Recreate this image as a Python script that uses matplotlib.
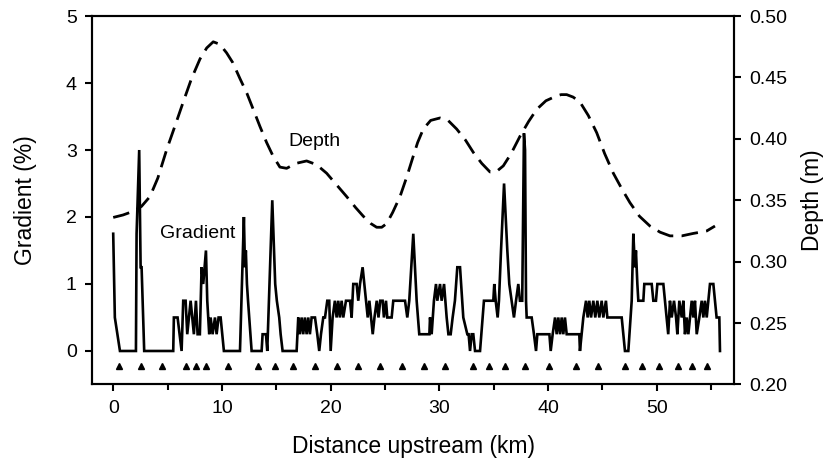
import matplotlib
matplotlib.use("Agg")
import matplotlib.pyplot as plt

plt.rcParams['font.family'] = ['Liberation Sans', 'DejaVu Sans']

# Depth profile (right axis), distance in km / depth in m
depth_km = [0.0, 0.9, 1.84, 2.6, 3.38, 4.1, 4.91, 5.7, 6.44, 7.2, 7.98, 8.6, 9.2, 9.8, 10.43,
            11.0, 11.66, 12.3, 12.88, 13.5, 14.11, 14.7, 15.33, 15.95, 16.8, 17.79, 18.7,
            19.63, 20.5, 21.47, 22.3, 23.0, 23.7, 24.23, 24.7, 25.15, 25.7, 26.38, 27.0, 27.6,
            28.0, 28.52, 29.2, 30.06, 30.8, 31.59, 32.4, 33.12, 33.9, 34.66, 35.2, 35.88, 36.6,
            37.41, 38.2, 38.95, 39.8, 40.79, 41.2, 41.71, 42.3, 42.93, 43.7, 44.47, 45.2, 46.0,
            46.8, 47.53, 48.4, 49.37, 50.3, 51.21, 52.3, 53.36, 54.0, 54.59, 55.35]
depth_m = [0.336, 0.338, 0.341, 0.345, 0.353, 0.368, 0.391, 0.411, 0.430, 0.449, 0.465, 0.474,
           0.479, 0.477, 0.470, 0.462, 0.449, 0.437, 0.424, 0.410, 0.397, 0.386, 0.377, 0.376,
           0.380, 0.382, 0.379, 0.372, 0.363, 0.353, 0.344, 0.337, 0.331, 0.328, 0.328, 0.331,
           0.340, 0.353, 0.369, 0.386, 0.397, 0.408, 0.415, 0.417, 0.415, 0.408, 0.399, 0.389,
           0.380, 0.373, 0.373, 0.378, 0.388, 0.402, 0.414, 0.424, 0.431, 0.435, 0.436, 0.436,
           0.434, 0.430, 0.419, 0.405, 0.388, 0.372, 0.359, 0.348, 0.337, 0.329, 0.324, 0.321,
           0.321, 0.323, 0.324, 0.325, 0.329]

# Gradient profile (left axis), distance in km / gradient in %
grad_km = [0.0, 0.15, 0.62, 2.09, 2.15, 2.39, 2.52, 2.61, 2.85, 5.52, 5.58, 5.92, 6.29, 6.44, 6.66,
           6.81, 7.12, 7.42, 7.61, 7.76, 7.97, 8.13, 8.28, 8.53, 8.65, 8.74, 8.83, 8.96, 9.14,
           9.36, 9.51, 9.69, 9.88, 10.18, 11.66, 12.02, 12.12, 12.2, 12.3, 12.4, 12.73, 13.65,
           13.74, 14.05, 14.17, 14.63, 14.9, 15.05, 15.27, 15.4, 15.58, 16.87, 17.02, 17.17,
           17.33, 17.48, 17.63, 17.79, 17.94, 18.09, 18.25, 18.56, 18.77, 18.95, 19.11, 19.32,
           19.48, 19.69, 19.87, 20.0, 20.18, 20.39, 20.55, 20.7, 20.85, 21.01, 21.16, 21.41,
           21.78, 21.93, 22.08, 22.39, 22.54, 22.7, 22.94, 23.1, 23.26, 23.41, 23.56, 23.72,
           23.87, 24.03, 24.24, 24.4, 24.56, 24.78, 24.9, 25.09, 25.21, 25.61, 25.76, 26.84,
           27.05, 27.23, 27.6, 27.91, 28.15, 29.08, 29.14, 29.29, 29.5, 29.69, 29.81, 30.06,
           30.21, 30.43, 30.55, 30.67, 30.83, 31.04, 31.22, 31.43, 31.65, 31.9, 32.2, 32.57,
           32.69, 32.82, 32.97, 33.12, 33.28, 33.74, 34.1, 34.96, 35.05, 35.18, 35.36, 35.48,
           35.67, 35.95, 36.1, 36.25, 36.43, 36.65, 36.86, 37.05, 37.26, 37.41, 37.62, 37.78,
           37.88, 37.97, 38.03, 38.49, 38.7, 38.89, 39.01, 40.12, 40.24, 40.42, 40.64, 40.79,
           40.94, 41.1, 41.25, 41.4, 41.55, 41.71, 42.87, 42.93, 43.09, 43.24, 43.49, 43.64,
           43.79, 43.95, 44.16, 44.34, 44.53, 44.71, 44.93, 45.08, 45.32, 45.45, 46.77, 46.92,
           47.07, 47.38, 47.69, 47.84, 47.99, 48.08, 48.21, 48.3, 48.76, 48.85, 49.53, 49.68,
           49.92, 50.05, 50.6, 50.75, 50.91, 51.05, 51.21, 51.37, 51.58, 51.77, 51.89, 52.07,
           52.29, 52.44, 52.59, 52.75, 52.9, 53.05, 53.21, 53.36, 53.51, 53.67, 53.91, 54.13,
           54.28, 54.43, 54.59, 54.74, 54.89, 55.2, 55.5, 55.75, 55.81]
grad_pct = [1.75, 0.5, 0.0, 0.0, 1.75, 3.0, 1.25, 1.25, 0.0, 0.0, 0.5, 0.5, 0.0, 0.75, 0.75,
            0.25, 0.75, 0.25, 0.75, 0.25, 0.25, 1.25, 1.0, 1.5, 0.75, 0.5, 0.25, 0.5, 0.25,
            0.5, 0.25, 0.5, 0.5, 0.0, 0.0, 2.0, 1.25, 1.5, 1.0, 0.75, 0.0, 0.0,
            0.25, 0.25, 0.0, 2.25, 1.0, 0.75, 0.5, 0.25, 0.0, 0.0, 0.5, 0.25,
            0.5, 0.25, 0.5, 0.25, 0.5, 0.25, 0.5, 0.5, 0.25, 0.0, 0.25, 0.5,
            0.5, 0.75, 0.75, 0.0, 0.5, 0.75, 0.5, 0.75, 0.5, 0.75, 0.5, 0.75,
            0.75, 0.5, 1.0, 1.0, 0.75, 1.0, 1.25, 1.0, 0.75, 0.5, 0.75, 0.5,
            0.25, 0.5, 0.75, 0.5, 0.75, 0.75, 0.5, 0.75, 0.5, 0.5, 0.75, 0.75,
            0.5, 0.75, 1.75, 0.75, 0.25, 0.25, 0.5, 0.25, 0.75, 1.0, 0.75, 1.0,
            0.75, 1.0, 0.75, 0.5, 0.25, 0.25, 0.5, 0.75, 1.25, 1.25, 0.5, 0.25,
            0.25, 0.0, 0.25, 0.25, 0.0, 0.0, 0.75, 0.75, 1.0, 0.75, 0.5, 0.75,
            1.5, 2.5, 2.0, 1.5, 1.0, 0.75, 0.5, 0.75, 1.0, 0.75, 0.75, 3.25,
            3.0, 0.75, 0.5, 0.5, 0.25, 0.0, 0.25, 0.25, 0.0, 0.25, 0.5, 0.25,
            0.5, 0.25, 0.5, 0.25, 0.5, 0.25, 0.25, 0.0, 0.25, 0.5, 0.75, 0.5,
            0.75, 0.5, 0.75, 0.5, 0.75, 0.5, 0.75, 0.5, 0.75, 0.5, 0.5, 0.25,
            0.0, 0.0, 0.75, 1.75, 1.25, 1.5, 1.0, 0.75, 0.75, 1.0, 1.0, 0.75,
            0.75, 1.0, 1.0, 0.75, 0.5, 0.25, 0.75, 0.5, 0.75, 0.5, 0.25, 0.75,
            0.5, 0.75, 0.25, 0.5, 0.25, 0.5, 0.75, 0.5, 0.75, 0.25, 0.5, 0.75,
            0.5, 0.75, 0.5, 0.75, 1.0, 1.0, 0.5, 0.5, 0.0]

# Sampling sites (triangles along the bottom)
sites_km = [0.52, 2.55, 4.51, 6.69, 7.58, 8.53, 10.55, 13.34, 14.9, 16.5, 18.58, 20.55, 22.54,
            24.56, 26.59, 28.56, 30.54, 33.12, 34.59, 36.06, 37.85, 40.11, 42.57, 44.56, 47.1,
            48.64, 50.23, 51.98, 53.21, 54.65]

fig = plt.figure(figsize=(8.38, 4.67), dpi=100)
ax1 = fig.add_axes([0.1098, 0.1767, 0.7661, 0.789])      # gradient axis
ax2 = ax1.twinx()                                         # depth axis

ax1.plot(grad_km, grad_pct, color='black', lw=1.9, solid_joinstyle='miter')
ax1.plot(sites_km, [-0.22] * len(sites_km), linestyle='none', marker='^',
         color='black', markersize=4.5)
ax2.plot(depth_km, depth_m, color='black', lw=2.0, linestyle=(0, (6, 3)))

ax1.set_xlim(-1.95, 57.1)
ax1.set_ylim(-0.5, 5)
ax2.set_ylim(0.2, 0.5)

ax1.set_xticks([0, 10, 20, 30, 40, 50])
ax1.set_xticks([5, 15, 25, 35, 45, 55], minor=True)
ax1.set_yticks([0, 1, 2, 3, 4, 5])
ax2.set_yticks([0.20, 0.25, 0.30, 0.35, 0.40, 0.45, 0.50])
ax2.set_yticklabels(['0.20', '0.25', '0.30', '0.35', '0.40', '0.45', '0.50'])

for ax in (ax1, ax2):
    for s in ax.spines.values():
        s.set_linewidth(1.5)
    ax.tick_params(which='major', direction='out', length=5, width=1.5, labelsize=14, pad=6)
    ax.tick_params(which='minor', direction='out', length=4, width=1.5)

ax1.set_xlabel('Distance upstream (km)', fontsize=16.5, labelpad=13)
ax1.set_ylabel('Gradient (%)', fontsize=16.5, labelpad=21)
ax2.set_ylabel('Depth (m)', fontsize=16.5, labelpad=10)

ax1.text(18.55, 3.12, 'Depth', fontsize=14, ha='center', va='center')
ax1.text(7.75, 1.75, 'Gradient', fontsize=14, ha='center', va='center')

plt.savefig('out.png', dpi=100)
